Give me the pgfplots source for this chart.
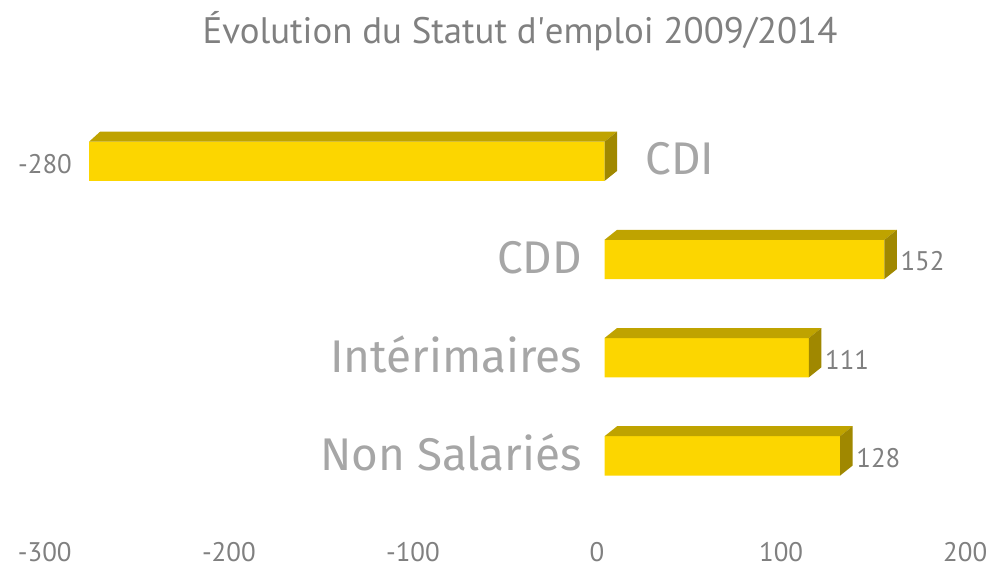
\documentclass[border=0pt]{standalone}
\usepackage{pgfplots}
\pgfplotsset{compat=1.18}
\usepackage{fontspec}
\setmainfont{PT Sans}
\newfontfamily\catfont{Fira Sans}
\definecolor{frontc}{RGB}{252,214,0}
\definecolor{topc}{RGB}{191,163,0}
\definecolor{sidec}{RGB}{160,136,0}
\definecolor{titlegray}{RGB}{128,128,128}
\definecolor{catgray}{RGB}{166,166,166}
\definecolor{valgray}{RGB}{128,128,128}
\begin{document}
\begin{tikzpicture}
\begin{axis}[
  width=988bp, height=569bp, scale only axis,
  xmin=-328.4, xmax=208.3,
  ymin=-1.6426, ymax=4.152, y dir=reverse,
  axis line style={draw=none},
  tick style={draw=none},
  ytick=\empty,
  xtick={-300,-200,-100,0,100,200},
  /pgf/number format/assume math mode=true,
  xticklabel style={font=\fontsize{27}{30}\selectfont, text=valgray, anchor=base, inner sep=0pt, yshift=8bp, xshift=-7.5bp},
  clip=false,
]
% front faces
\addplot[xbar, bar width=0.4, fill=frontc, draw=none] coordinates {(-280,0) (152,1) (111,2) (128,3)};
% top faces
\addplot[fill=topc, draw=none] coordinates {(-280,-0.2) (0,-0.2) (6.8,-0.302) (-274,-0.302)};
\addplot[fill=topc, draw=none] coordinates {(0,0.8) (152,0.8) (158.8,0.698) (6.8,0.698)};
\addplot[fill=topc, draw=none] coordinates {(0,1.8) (111,1.8) (117.8,1.698) (6.8,1.698)};
\addplot[fill=topc, draw=none] coordinates {(0,2.8) (128,2.8) (134.8,2.698) (6.8,2.698)};
% side faces
\addplot[fill=sidec, draw=none] coordinates {(0,-0.2) (6.8,-0.302) (6.8,0.098) (0,0.2)};
\addplot[fill=sidec, draw=none] coordinates {(152,0.8) (158.8,0.698) (158.8,1.098) (152,1.2)};
\addplot[fill=sidec, draw=none] coordinates {(111,1.8) (117.8,1.698) (117.8,2.098) (111,2.2)};
\addplot[fill=sidec, draw=none] coordinates {(128,2.8) (134.8,2.698) (134.8,3.098) (128,3.2)};
% value labels
\addplot[draw=none, mark=none, point meta=explicit symbolic, nodes near coords,
  nodes near coords style={anchor=base east, inner sep=0pt, xshift=-17bp, yshift=-12bp, text=valgray, font=\fontsize{27}{30}\selectfont}]
  coordinates {(-280,0) [-280]};
\addplot[draw=none, mark=none, point meta=explicit symbolic, nodes near coords,
  nodes near coords style={anchor=base west, inner sep=0pt, xshift=16bp, yshift=-11.5bp, text=valgray, font=\fontsize{27}{30}\selectfont}]
  coordinates {(152,1) [152] (111,2) [111] (128,3) [128]};
% category labels
\addplot[draw=none, mark=none, point meta=explicit symbolic, nodes near coords,
  nodes near coords style={anchor=base west, inner sep=0pt, xshift=41bp, yshift=-13.5bp, text=catgray, font=\catfont\fontsize{46}{50}\selectfont}]
  coordinates {(0,0) [CDI]};
\addplot[draw=none, mark=none, point meta=explicit symbolic, nodes near coords,
  nodes near coords style={anchor=base east, inner sep=0pt, xshift=-22.5bp, yshift=-14.5bp, text=catgray, font=\catfont\fontsize{46}{50}\selectfont}]
  coordinates {(0,1) [CDD] (0,2) [Intérimaires] (0,3) [Non Salariés]};
\node[anchor=base, inner sep=0pt, text=titlegray, font=\fontsize{37}{40}\selectfont] at (axis cs:-45.9,-1.2) {Évolution du Statut d\textquotesingle emploi 2009/2014};
\end{axis}
\end{tikzpicture}
\end{document}
